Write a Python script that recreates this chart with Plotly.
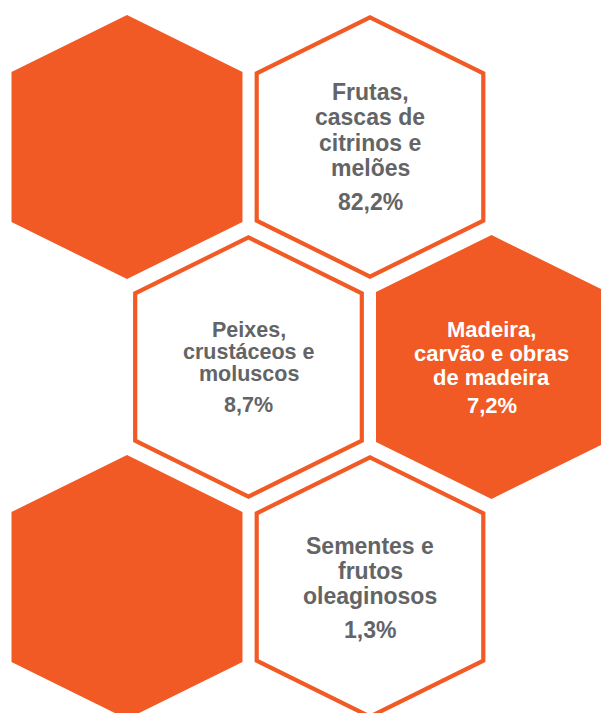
import plotly.graph_objects as go

# ---- data ----
categories = [
    "Frutas, cascas de citrinos e melões",
    "Peixes, crustáceos e moluscos",
    "Madeira, carvão e obras de madeira",
    "Sementes e frutos oleaginosos",
]
category_lines = [
    ["Frutas,", "cascas de", "citrinos e", "melões"],
    ["Peixes,", "crustáceos e", "moluscos"],
    ["Madeira,", "carvão e obras", "de madeira"],
    ["Sementes e", "frutos", "oleaginosos"],
]
shares = [82.2, 8.7, 7.2, 1.3]

# ---- layout / style (not data) ----
W, H = 601, 713
ORANGE = "#F15A25"
GREY = "#636466"
FONT = "Liberation Sans, Arial, sans-serif"

# honeycomb grid (row, col) -> centre
COL_STEP, ROW_STEP = 243, 220
X0, Y0 = 127, 147
HW, SIDE, TIP = 115.5, 75, 132  # half width, side-vertex offset, tip offset


def centre(row, col):
    x = X0 + col * COL_STEP + (COL_STEP / 2 if row % 2 == 1 else 0)
    y = Y0 + row * ROW_STEP
    return x, y


def hex_path(cx, cy, inset=0.0):
    hw, sd, tp = HW - inset, SIDE - inset * 0.6, TIP - inset * 1.1
    pts = [(cx, cy - tp), (cx + hw, cy - sd), (cx + hw, cy + sd),
           (cx, cy + tp), (cx - hw, cy + sd), (cx - hw, cy - sd)]
    return "M " + " L ".join(f"{x:.1f},{y:.1f}" for x, y in pts) + " Z"


# decorative filled hexes without labels
decor_cells = [(0, 0), (2, 0)]
# labelled hexes: cell, filled?, font size, first-line offset, line spacing, pct gap
label_cells = [(0, 1), (1, 0), (1, 1), (2, 1)]
label_filled = [False, False, True, False]
font_sizes = [23, 21.5, 22, 23]
first_offsets = [-55.3, -37, -38, -41.3]
line_steps = [25.5, 22, 24, 25]
pct_gaps = [33.4, 31, 28.3, 34.3]

fig = go.Figure()
shapes = []
annotations = []

for r, c in decor_cells:
    cx, cy = centre(r, c)
    shapes.append(dict(type="path", path=hex_path(cx, cy), fillcolor=ORANGE,
                       line=dict(width=0), layer="below"))

for i, (r, c) in enumerate(label_cells):
    cx, cy = centre(r, c)
    if label_filled[i]:
        shapes.append(dict(type="path", path=hex_path(cx, cy), fillcolor=ORANGE,
                           line=dict(width=0), layer="below"))
        tcol = "white"
    else:
        shapes.append(dict(type="path", path=hex_path(cx, cy, inset=2.2),
                           fillcolor="white", line=dict(color=ORANGE, width=4.2),
                           layer="below"))
        tcol = GREY
    y = cy + first_offsets[i]
    for k, line in enumerate(category_lines[i]):
        yy = y + k * line_steps[i]
        annotations.append(dict(x=cx, y=yy, xref="x", yref="y", text=f"<b>{line}</b>",
                                showarrow=False, xanchor="center", yanchor="middle",
                                font=dict(family=FONT, size=font_sizes[i], color=tcol)))
    yp = y + (len(category_lines[i]) - 1) * line_steps[i] + pct_gaps[i]
    pct = f"{shares[i]:.1f}".replace(".", ",") + "%"
    annotations.append(dict(x=cx, y=yp, xref="x", yref="y", text=f"<b>{pct}</b>",
                            showarrow=False, xanchor="center", yanchor="middle",
                            font=dict(family=FONT, size=font_sizes[i], color=tcol)))

fig.add_trace(go.Scatter(x=[0, W], y=[0, H], mode="markers",
                         marker=dict(opacity=0), hoverinfo="skip", showlegend=False))

fig.update_layout(
    width=W, height=H,
    margin=dict(l=0, r=0, t=0, b=0),
    paper_bgcolor="white", plot_bgcolor="white",
    xaxis=dict(range=[0, W], visible=False, fixedrange=True),
    yaxis=dict(range=[H, 0], visible=False, fixedrange=True),
    shapes=shapes, annotations=annotations,
    showlegend=False,
)

fig.write_html(
    "out.html",
    config=dict(displayModeBar=False),
    post_script="document.body.style.margin='0';document.body.style.overflow='hidden';",
)
